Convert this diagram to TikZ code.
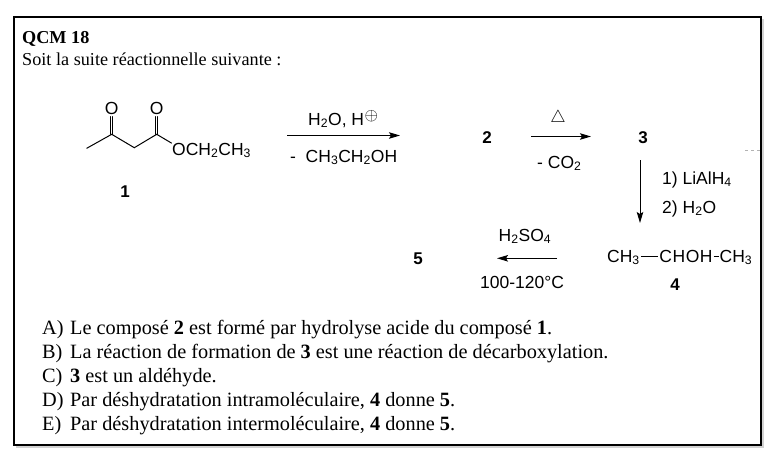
\documentclass[tikz,border=0pt]{standalone}
\usepackage{fontspec}
\setmainfont{Liberation Serif}
\newfontfamily\chemfont{Liberation Sans}
\usetikzlibrary{arrows.meta}
\tikzset{
  chem/.style={font=\chemfont\fontsize{17.5}{20}\selectfont, inner sep=0pt},
  cnum/.style={font=\chemfont\bfseries\fontsize{17}{20}\selectfont, inner sep=0pt, anchor=base},
  txt/.style={font=\fontsize{20.3}{24}\selectfont, inner sep=0pt, anchor=base west},
  bond/.style={line width=1pt, line cap=round},
  rxn/.style={line width=1pt, -{Stealth[length=11pt,width=6.5pt,inset=2pt]}},
}
\newcommand{\cplus}{\kern0.5pt\raisebox{4.5pt}{\fontsize{16}{16}\selectfont$\oplus$}}
\begin{document}
\begin{tikzpicture}[x=1pt,y=-1pt]
\useasboundingbox (0,0) rectangle (780,464);
\fill[white] (0,0) rectangle (780,464);
% frame with faint shadow
\draw[gray!35, line width=1.5pt] (16,446.8) -- (762.8,446.8) -- (762.8,19);
\draw[line width=1.5pt] (14,17) rectangle (761,445);
\draw[gray!60, dashed, line width=0.8pt] (745,150) -- (760,150);

% header
\node[font=\bfseries\fontsize{18.2}{22}\selectfont, inner sep=0pt, anchor=base west] (title) at (22,43) {QCM 18};
\node[font=\fontsize{18.2}{22}\selectfont, inner sep=0pt, anchor=base west] (intro) at (22,65.5) {Soit la suite réactionnelle suivante :};

% compound 1
\coordinate (m0) at (86.7,148.3);
\coordinate (m1) at (111.7,134.3);
\coordinate (m2) at (134.3,147.7);
\coordinate (m3) at (156.7,134.3);
\node[chem] (o1) at (111.7,108.3) {O};
\node[chem] (o2) at (156.7,108.3) {O};
\node[chem, anchor=base west] (oet) at (172,155) {OCH\textsubscript{2}CH\textsubscript{3}};
\draw[bond] (m0) -- (m1) -- (m2) -- (m3) -- ([xshift=-0.5pt,yshift=-0.5pt]oet.north west);
\draw[bond, shorten >=2pt] ([xshift=-1.2pt]m1) -- ([xshift=-1.2pt]o1.south);
\draw[bond, shorten >=2pt] ([xshift=1.2pt]m1) -- ([xshift=1.2pt]o1.south);
\draw[bond, shorten >=2pt] ([xshift=-1.2pt]m3) -- ([xshift=-1.2pt]o2.south);
\draw[bond, shorten >=2pt] ([xshift=1.2pt]m3) -- ([xshift=1.2pt]o2.south);
\node[cnum] (c1) at (125,197) {1};

% step 1 -> 2
\coordinate (a1s) at (287,135.5);
\coordinate (a1e) at (400,135.5);
\draw[rxn] (a1s) -- (a1e);
\node[chem, anchor=base west] (r1a) at (308,125) {H\textsubscript{2}O, H\cplus};
\node[chem, anchor=base west] (r1b) at (290,162) {-\ \ CH\textsubscript{3}CH\textsubscript{2}OH};
\node[cnum] (c2) at (487,143) {2};

% step 2 -> 3
\coordinate (a2s) at (531,136.5);
\coordinate (a2e) at (591,136.5);
\draw[rxn] (a2s) -- (a2e);
\node[chem] (heat) at (558,118) {$\bigtriangleup$};
\node[chem, anchor=base west] (r2) at (537,168) {-\ CO\textsubscript{2}};
\node[cnum] (c3) at (643,143) {3};

% step 3 -> 4
\coordinate (a3s) at (640,160);
\coordinate (a3e) at (640,223);
\draw[rxn] (a3s) -- (a3e);
\node[chem, anchor=base west] (r3a) at (662,184) {1) LiAlH\textsubscript{4}};
\node[chem, anchor=base west] (r3b) at (662,213) {2) H\textsubscript{2}O};
\node[chem, anchor=base west] (f4) at (607,262) {CH\textsubscript{3}\kern1pt\rule[5.5pt]{17pt}{0.9pt}\kern1.5pt C\kern0.6pt H\kern0.6pt O\kern0.6pt H\kern1pt\rule[5.5pt]{5pt}{0.9pt}\kern1pt CH\textsubscript{3}};
\node[cnum] (c4) at (675,290) {4};

% step 4 -> 5
\coordinate (a4s) at (557,258.3);
\coordinate (a4e) at (497,258.3);
\draw[rxn] (a4s) -- (a4e);
\node[chem, anchor=base] (r4a) at (525,241) {H\textsubscript{2}SO\textsubscript{4}};
\node[chem, anchor=base] (r4b) at (522,288) {100-120°C};
\node[cnum] (c5) at (418,264) {5};

% propositions
\node[txt] (qa) at (42,334) {\makebox[28pt][l]{A)}Le composé \textbf{2} est formé par hydrolyse acide du composé \textbf{1}.};
\node[txt] (qb) at (42,358) {\makebox[28pt][l]{B)}La réaction de formation de \textbf{3} est une réaction de décarboxylation.};
\node[txt] (qc) at (42,382) {\makebox[28pt][l]{C)}\textbf{3} est un aldéhyde.};
\node[txt] (qd) at (42,406) {\makebox[28pt][l]{D)}Par déshydratation intramoléculaire, \textbf{4} donne \textbf{5}.};
\node[txt] (qe) at (42,430) {\makebox[28pt][l]{E)}Par déshydratation intermoléculaire, \textbf{4} donne \textbf{5}.};
\end{tikzpicture}
\end{document}
